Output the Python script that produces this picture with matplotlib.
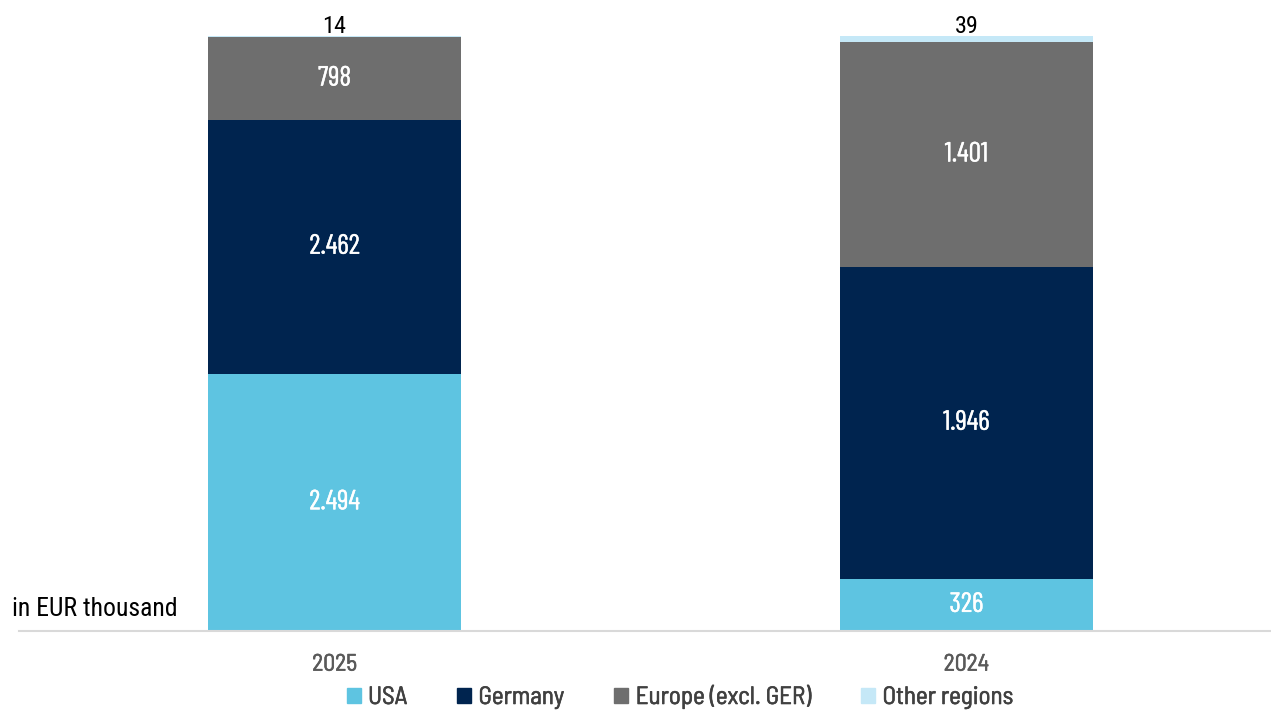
import matplotlib.pyplot as plt
import matplotlib.patheffects as pe
import numpy as np
from matplotlib.patches import Patch

# ============================================================
# Data (in EUR thousand)
# ============================================================
years = ['2025', '2024']
usa = [2494, 326]
germany = [2462, 1946]
europe = [798, 1401]
other = [14, 39]

series_names = ['USA', 'Germany', 'Europe (excl. GER)', 'Other regions']
colors = ['#5EC4E1', '#00244F', '#6E6E6E', '#C5E8F7']

label_font = ['Barlow Condensed', 'DejaVu Sans']
tick_font = ['Barlow Semi Condensed', 'DejaVu Sans']
narrow_font = ['Roboto Condensed', 'DejaVu Sans']


def thicken(color, lw=0.3):
    # slightly heavier strokes than the regular weight
    return [pe.withStroke(linewidth=lw, foreground=color)]


fig = plt.figure(figsize=(12.71, 7.11), dpi=100)
ax = fig.add_axes([19 / 1271, 1 - 631 / 711, 1 - 19 / 1271, (631 - 36) / 711])

series = [np.array(usa, float), np.array(germany, float),
          np.array(europe, float), np.array(other, float)]
totals = sum(series)
x = np.arange(len(years))
bottom = np.zeros(len(years))

# 100% stacked bars, labelled with absolute values
for vals, name, col in zip(series, series_names, colors):
    share = vals / totals
    ax.bar(x, share, 0.4, bottom=bottom, color=col, label=name)
    for xi, v, s, b in zip(x, vals, share, bottom):
        txt = f"{int(v):,}".replace(',', '.')
        if name == 'Other regions':
            ax.text(xi, b + s - 0.004, txt, ha='center', va='bottom',
                    fontsize=17.5, color='black', family=narrow_font)
        else:
            ax.text(xi, b + s / 2, txt, ha='center', va='center',
                    fontsize=20, color='white', family=label_font,
                    path_effects=thicken('white', 0.3))
    bottom += share

ax.set_xlim(-0.4995, 1.482)
ax.set_ylim(0, 1)
ax.set_xticks(x)
ax.set_xticklabels(years, fontsize=17, color='#595959', family=tick_font,
                   path_effects=thicken('#595959', 0.45))
ax.tick_params(axis='x', length=0, pad=17)
ax.set_yticks([])
for side in ['top', 'right', 'left']:
    ax.spines[side].set_visible(False)
ax.spines['bottom'].set_color('#D9D9D9')
ax.spines['bottom'].set_linewidth(1.5)

fig.text(12 / 1271, 1 - 609 / 711, 'in EUR thousand', fontsize=18.5,
         color='black', ha='left', va='center', family=narrow_font)

handles = [Patch(color=c, label=n) for c, n in zip(colors, series_names)]
leg = fig.legend(handles=handles, loc='center', bbox_to_anchor=(0.535, 1 - 697 / 711),
                 ncol=4, frameon=False, labelcolor='#404040',
                 prop={'family': tick_font, 'size': 18},
                 handlelength=0.55, handleheight=0.55, handletextpad=0.3,
                 columnspacing=2.0)
for t in leg.get_texts():
    t.set_path_effects(thicken('#404040', 0.45))

plt.savefig('out.png', dpi=100)
plt.close()
